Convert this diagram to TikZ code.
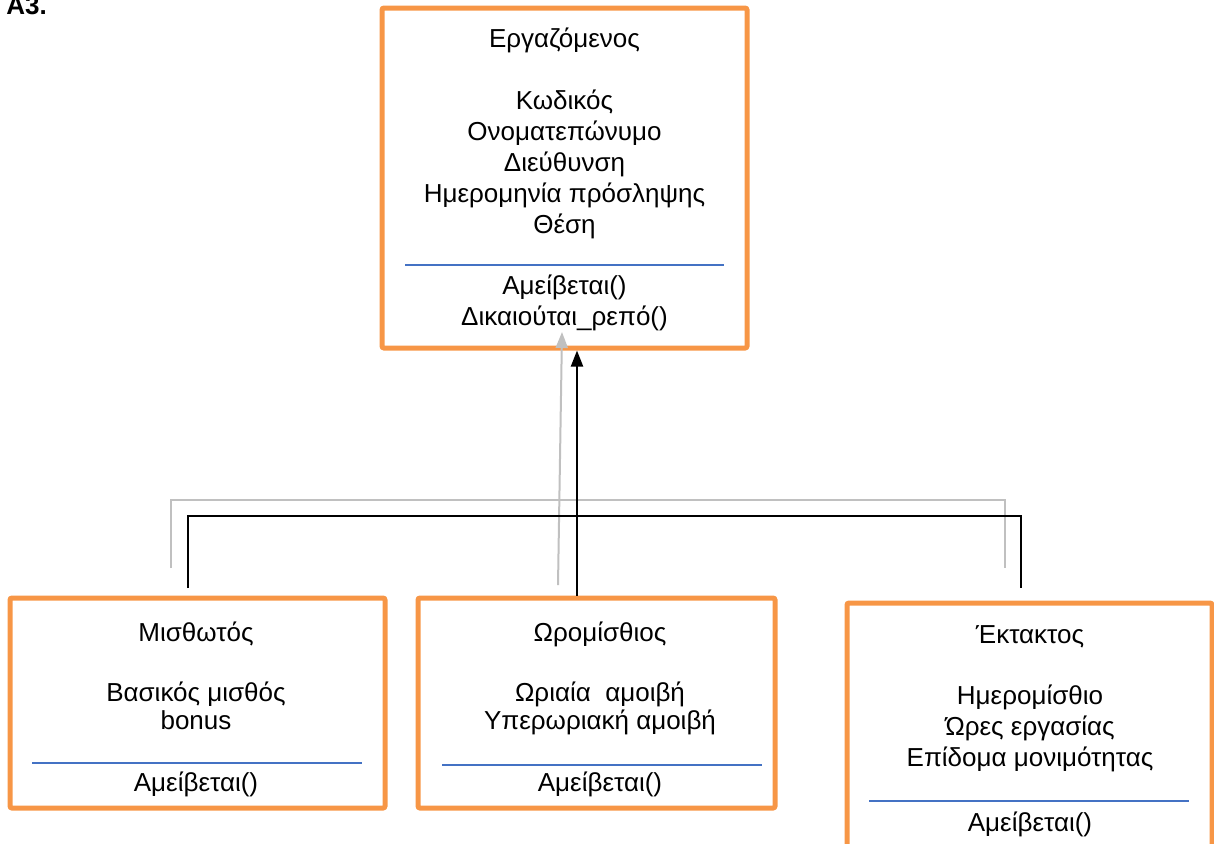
\documentclass[tikz,border=0pt]{standalone}
\usepackage{fontspec}
\setmainfont{Liberation Sans}
\usetikzlibrary{arrows.meta}
\definecolor{boxorange}{HTML}{F79646}
\definecolor{ruleblue}{HTML}{4472C4}
\definecolor{ghost}{HTML}{C0C0C0}
\begin{document}
\begin{tikzpicture}[x=0.5pt, y=-0.5pt, >={Triangle[length=8pt,width=6pt]},
  every node/.style={font=\fontsize{13}{15.5}\selectfont, inner sep=0pt},
  cls/.style={draw=boxorange, line width=2.5pt, rounded corners=1pt},
  sep/.style={draw=ruleblue, line width=0.6pt},
  link/.style={line width=1pt}]
  \clip (0,0) rectangle (1214,843);
  \node[font=\bfseries\fontsize{13}{15}\selectfont, anchor=base west] (tag) at (6,14) {A3.};
  % class boxes
  \node[cls, minimum width=182.5pt, minimum height=170pt] (ergaz) at (564.5,178) {};
  \node[cls, minimum width=187.5pt, minimum height=105pt] (misth) at (197.5,703) {};
  \node[cls, minimum width=178.5pt, minimum height=105pt] (oro) at (596.5,703) {};
  \node[cls, minimum width=182.5pt, minimum height=133.5pt] (ekt) at (1029.5,736.5) {};
  % texts
  \foreach \t [count=\i] in {Εργαζόμενος, , Κωδικός, Ονοματεπώνυμο, Διεύθυνση,
                             Ημερομηνία πρόσληψης, Θέση}
    { \node[anchor=base] (e-\i) at (564.5, 16+31*\i) {\t}; }
  \foreach \t [count=\i] in {Αμείβεται(), Δικαιούται\_ρεπό()}
    { \node[anchor=base] (em-\i) at (564.5, 263+31*\i) {\t}; }
  \foreach \t/\y [count=\i] in {Μισθωτός/641, Βασικός μισθός/701, bonus/729, Αμείβεται()/791}
    { \node[anchor=base] (m-\i) at (196, \y) {\t}; }
  \foreach \t/\y [count=\i] in {Ωρομίσθιος/641, Ωριαία~~αμοιβή/701, Υπερωριακή αμοιβή/729,
                                Αμείβεται()/791}
    { \node[anchor=base] (o-\i) at (600, \y) {\t}; }
  \foreach \t/\y [count=\i] in {Έκτακτος/643, Ημερομίσθιο/704, Ώρες εργασίας/735,
                                Επίδομα μονιμότητας/766, Αμείβεται()/831}
    { \node[anchor=base] (k-\i) at (1030, \y) {\t}; }
  % separators
  \draw[sep] (405,265) -- (724,265);
  \draw[sep] (32,763) -- (362,763);
  \draw[sep] (442,765) -- (762,765);
  \draw[sep] (869,801) -- (1189,801);
  % gray connectors
  \coordinate (gL) at (171,568); \coordinate (gR) at (1005,568);
  \coordinate (gbar) at (0,500); \coordinate (gfoot) at (558,585);
  \draw[link, ghost] (gL) -- (gL |- gbar) -- (gR |- gbar) -- (gR);
  \draw[link, ghost, ->] (gfoot) -- (562,332);
  % black connectors
  \coordinate (bL) at (188,588); \coordinate (bR) at (1021,588);
  \coordinate (bbar) at (0,516); \coordinate (stem) at (577,0);
  \draw[link] (bL) -- (bL |- bbar) -- (bR |- bbar) -- (bR);
  \draw[link, ->] (oro.north -| stem) -- (ergaz.south -| stem);
\end{tikzpicture}
\end{document}
